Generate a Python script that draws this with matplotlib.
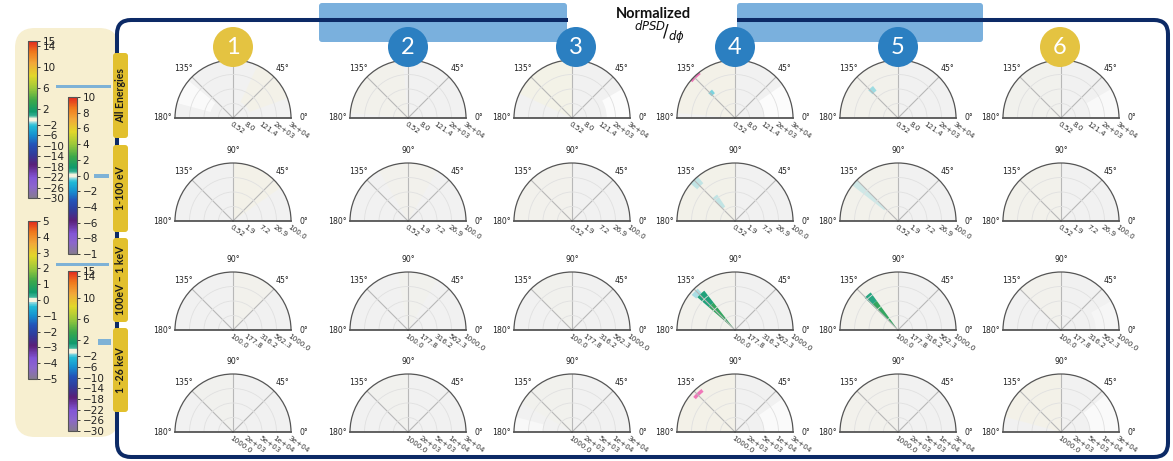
import numpy as np
import matplotlib
matplotlib.use("Agg")
import matplotlib.pyplot as plt
from matplotlib.colors import LinearSegmentedColormap, Normalize, TwoSlopeNorm
from matplotlib.cm import ScalarMappable
from matplotlib.patches import FancyBboxPatch, Rectangle, Circle
import matplotlib.transforms as mtrans

# ---------------- data ----------------
panel_numbers = ["1", "2", "3", "4", "5", "6"]
energy_bands = ["All Energies", "1-100 eV", "100eV \u2013 1 keV", "1 -26 keV"]
theta_ticks = [0, 45, 90, 135, 180]
theta_labels = ["0°", "45°", "90°", "135°", "180°"]
r_labels_all = ["0.52", "8.0", "121.4", "2e+03", "3e+04"]
r_labels_low = ["0.52", "1.9", "7.2", "26.9", "100.0"]
r_labels_mid = ["100.0", "177.8", "316.2", "562.3", "1000.0"]
r_labels_high = ["1000.0", "2e+03", "5e+03", "1e+04", "3e+04"]
r_label_rows = [r_labels_all, r_labels_low, r_labels_mid, r_labels_high]

cb_all_ticks = [15, 14, 10, 6, 2, -2, -6, -10, -14, -18, -22, -26, -30]
cb_low_ticks = [10, 8, 6, 4, 2, 0, -2, -4, -6, -8, -10]
cb_low_labels = ["10", "8", "6", "4", "2", "0", "\u22122", "\u22124", "\u22126", "\u22128", "\u22121"]
cb_mid_ticks = [5, 4, 3, 2, 1, 0, -1, -2, -3, -4, -5]
cb_high_ticks = [15, 14, 10, 6, 2, -2, -6, -10, -14, -18, -22, -26, -30]
cb_ranges = [(-30, 15), (-10, 10), (-5, 5), (-30, 15)]

# faint near-zero sectors: (row, col, theta0, theta1, r0, r1, alpha)
cream_sectors = [
    (0, 0, 20, 65, 0.3, 1.0, 0.45), (0, 1, 95, 175, 0.0, 1.0, 0.3),
    (0, 2, 90, 155, 0.0, 1.0, 0.5), (0, 3, 90, 175, 0.0, 1.0, 0.45),
    (0, 4, 90, 180, 0.0, 1.0, 0.3), (0, 5, 90, 180, 0.0, 1.0, 0.2),
    (1, 0, 35, 90, 0.0, 1.0, 0.45), (1, 1, 60, 120, 0.0, 1.0, 0.25),
    (1, 2, 90, 180, 0.0, 1.0, 0.25), (1, 3, 90, 180, 0.0, 1.0, 0.4),
    (1, 4, 90, 180, 0.0, 1.0, 0.3), (1, 5, 90, 180, 0.0, 1.0, 0.3),
    (2, 0, 45, 90, 0.0, 1.0, 0.25), (2, 1, 60, 100, 0.0, 1.0, 0.2),
    (2, 2, 90, 135, 0.0, 1.0, 0.2), (2, 3, 90, 180, 0.0, 1.0, 0.25),
    (2, 4, 90, 180, 0.0, 1.0, 0.3), (2, 5, 90, 135, 0.0, 1.0, 0.25),
    (3, 0, 90, 135, 0.0, 1.0, 0.15), (3, 1, 90, 135, 0.0, 1.0, 0.15),
    (3, 2, 90, 150, 0.0, 1.0, 0.2), (3, 3, 90, 180, 0.0, 1.0, 0.45),
    (3, 4, 90, 180, 0.0, 1.0, 0.25), (3, 5, 90, 165, 0.0, 1.0, 0.45),
]
white_sectors = [
    (0, 0, 140, 165, 0.4, 1.0, 0.7), (0, 2, 0, 30, 0.6, 1.0, 0.8),
    (0, 3, 0, 35, 0.5, 1.0, 0.8), (0, 5, 0, 30, 0.5, 1.0, 0.6),
    (3, 3, 0, 35, 0.5, 1.0, 0.7), (3, 5, 0, 40, 0.5, 1.0, 0.7),
    (3, 2, 165, 180, 0.5, 1.0, 0.5), (2, 5, 0, 30, 0.6, 1.0, 0.4),
]
# coloured cells: (row, col, theta0, theta1, r0, r1, value, alpha)
value_cells = [
    (0, 3, 129, 137, 0.55, 0.63, -1.5, 0.85),
    (0, 3, 128, 140, 0.96, 1.00, 20.0, 0.9),
    (0, 4, 128, 137, 0.60, 0.70, -1.5, 0.6),
    (1, 3, 130, 140, 0.85, 1.00, -0.5, 0.35),
    (1, 3, 124, 134, 0.30, 0.55, -0.5, 0.35),
    (1, 4, 135, 142, 0.30, 1.00, -0.5, 0.25),
    (2, 3, 128, 139, 0.00, 0.60, 0.9, 0.95),
    (2, 3, 128, 139, 0.60, 0.86, 0.45, 0.95),
    (2, 3, 132, 141, 0.86, 0.96, -0.3, 0.45),
    (2, 4, 126, 136, 0.00, 0.62, 0.9, 0.95),
    (2, 4, 126, 136, 0.62, 0.80, 0.4, 0.95),
    (3, 3, 128, 140, 0.88, 0.94, 20.0, 0.9),
]

# ---------------- figure ----------------
W, H = 1173, 461
fig = plt.figure(figsize=(W / 100, H / 100), dpi=100)

cmap = LinearSegmentedColormap.from_list("psd", [
    (0.00, "#857b90"), (0.07, "#8c66cc"), (0.13, "#8355d6"),
    (0.21, "#5a1f78"), (0.28, "#2f3d9c"), (0.34, "#2353b8"),
    (0.40, "#1690d0"), (0.46, "#22bcd6"), (0.482, "#8ad8e0"),
    (0.49, "#f6f3df"), (0.51, "#f6f3df"), (0.52, "#3cb49a"),
    (0.55, "#0e9a6e"), (0.62, "#3ca84a"), (0.70, "#9cc83a"),
    (0.78, "#e2d72a"), (0.86, "#f2a83a"), (0.93, "#f07a1c"),
    (1.00, "#e2281e")])
cmap.set_over("#f06ab4")


def make_norm(i):
    lo, hi = cb_ranges[i]
    if -lo != hi:
        return TwoSlopeNorm(vcenter=0, vmin=lo, vmax=hi)
    return Normalize(lo, hi)


def pix_axes(x0, y0, x1, y1, **kw):
    return fig.add_axes([x0 / W, 1 - y1 / H, (x1 - x0) / W, (y1 - y0) / H], **kw)


bg = fig.add_axes([0, 0, 1, 1], zorder=0)
bg.set_xlim(0, W); bg.set_ylim(H, 0); bg.axis("off")
fg = fig.add_axes([0, 0, 1, 1], zorder=5)
fg.set_xlim(0, W); fg.set_ylim(H, 0); fg.axis("off"); fg.patch.set_alpha(0)

navy = "#0c2a66"
# beige panel
bg.add_patch(FancyBboxPatch((15, 28), 104, 409, boxstyle="round,pad=0,rounding_size=20",
                            fc="#f7efd0", ec="none", zorder=0))
# blue header bars
for x0, x1 in [(319, 567), (737, 983)]:
    bg.add_patch(FancyBboxPatch((x0, 3), x1 - x0, 39, boxstyle="round,pad=0,rounding_size=3",
                                fc="#7ab0dd", ec="none", zorder=1))
# frame
bg.add_patch(FancyBboxPatch((117, 20), 1051, 437, boxstyle="round,pad=0,rounding_size=14",
                            fc="none", ec=navy, lw=2.9, zorder=2))
bg.add_patch(Rectangle((568, 12), 169, 14, fc="white", ec="none", zorder=3))
# connector dashes
dash_c = "#7eb2d6"
for (x0, x1, y, th) in [(56, 111, 87, 3), (94, 109, 176, 4), (56, 109, 264, 3), (98, 111, 342, 6)]:
    bg.add_patch(Rectangle((x0, y - th / 2), x1 - x0, th, fc=dash_c, ec="none", zorder=4))

# tabs
tab_spans = [(53, 138), (145, 232), (238, 322), (328, 412)]
for (y0, y1), lab in zip(tab_spans, energy_bands):
    fg.add_patch(FancyBboxPatch((113, y0), 15, y1 - y0, boxstyle="round,pad=0,rounding_size=3",
                                fc="#e2c02e", ec="none", zorder=1))
    fg.text(120.5, (y0 + y1) / 2, lab, rotation=90, ha="center", va="center",
            fontsize=7.6, fontweight="bold", family="Lato", color="#1b1b1b", zorder=2)

# title
fg.text(653, 14, "Normalized", ha="center", va="center", fontsize=10.5,
        fontweight="bold", family="Lato", color="#111111")
fg.text(660, 32, r"$^{dPSD}\!/_{d\phi}$", ha="center", va="center", fontsize=12, color="#111111")

# number circles
circ_x = [233, 408, 576, 735, 898, 1060]
circ_c = ["#e4c341", "#2b7fc1", "#2b7fc1", "#2b7fc1", "#2b7fc1", "#e4c341"]
for x, c, n in zip(circ_x, circ_c, panel_numbers):
    fg.add_patch(Circle((x, 47), 20, fc=c, ec="none", zorder=3))
    fg.text(x, 48, n, ha="center", va="center", fontsize=17, color="white",
            family="Lato", zorder=4)

# colorbars
cb_boxes = [(28, 41, 37, 198), (68, 97, 77, 254), (28, 221, 37, 379), (68, 271, 77, 431)]
cb_ticks = [cb_all_ticks, cb_low_ticks, cb_mid_ticks, cb_high_ticks]
for i, box in enumerate(cb_boxes):
    cax = pix_axes(*box, zorder=2)
    cb = fig.colorbar(ScalarMappable(norm=make_norm(i), cmap=cmap), cax=cax)
    if i == 1:
        cb.set_ticks(cb_ticks[i], labels=cb_low_labels)
    else:
        cb.set_ticks(cb_ticks[i], labels=[str(t).replace("-", "\u2212") for t in cb_ticks[i]])
    cb.ax.tick_params(labelsize=7.5, length=2.5, width=0.6, pad=1.5, colors="#222222")
    cb.outline.set_linewidth(0.8)
    cb.outline.set_edgecolor("#555555")
    cb.ax.minorticks_off()

# polar panels
col_cx = [233, 408, 572, 735, 898, 1061]
row_base = [118, 221, 330, 432]
R = 58
r_ticks = [0.0, 0.25, 0.5, 0.75, 1.0]

def bar_sector(ax, th0, th1, r0, r1, color, alpha):
    ax.bar(np.deg2rad((th0 + th1) / 2), r1 - r0, width=np.deg2rad(th1 - th0), bottom=r0,
           color=color, alpha=alpha, linewidth=0, zorder=1)

for ri, yb in enumerate(row_base):
    norm = make_norm(ri)
    for ci, cx in enumerate(col_cx):
        # half-disc is drawn centred in a box of (4R x 2R)
        ax = pix_axes(cx - 2 * R, yb - R / 2 - R, cx + 2 * R, yb - R / 2 + R,
                      projection="polar", zorder=2)
        ax.set_thetamin(0); ax.set_thetamax(180)
        ax.set_ylim(0, 1)
        ax.set_facecolor("#f1f1f1")
        for (r_, c_, t0, t1, a0, a1, al) in cream_sectors:
            if r_ == ri and c_ == ci:
                bar_sector(ax, t0, t1, a0, a1, cmap(norm(0.0)), al)
        for (r_, c_, t0, t1, a0, a1, al) in white_sectors:
            if r_ == ri and c_ == ci:
                bar_sector(ax, t0, t1, a0, a1, "white", al)
        for (r_, c_, t0, t1, a0, a1, v, al) in value_cells:
            if r_ == ri and c_ == ci:
                bar_sector(ax, t0, t1, a0, a1, cmap(norm(v)), al)
        ax.set_thetagrids(theta_ticks, labels=theta_labels, fontsize=5.6, color="#222222")
        ax.set_rgrids([0.25, 0.5, 0.75], labels=["", "", ""])
        ax.xaxis.grid(True, color="#b8b8b8", lw=0.8)
        ax.yaxis.grid(True, color="#e0e0e0", lw=0.6)
        ax.tick_params(axis="x", pad=-1.5)
        ax.tick_params(axis="y", length=2, width=0.8, color="#333333")
        for sp in ax.spines.values():
            sp.set_color("#555555")
            sp.set_linewidth(0.9)
        ax.spines["start"].set_linewidth(1.3)
        ax.spines["end"].set_linewidth(1.3)
        trans = mtrans.offset_copy(ax.transData, fig=fig, x=-1, y=-3, units="dots")
        for rv, lab in zip(r_ticks, r_label_rows[ri]):
            ax.text(0, rv, lab, transform=trans, rotation=-35, rotation_mode="anchor",
                    ha="left", va="top", fontsize=5.2, color="#333333", clip_on=False)

fig.savefig("out.png", dpi=100)
